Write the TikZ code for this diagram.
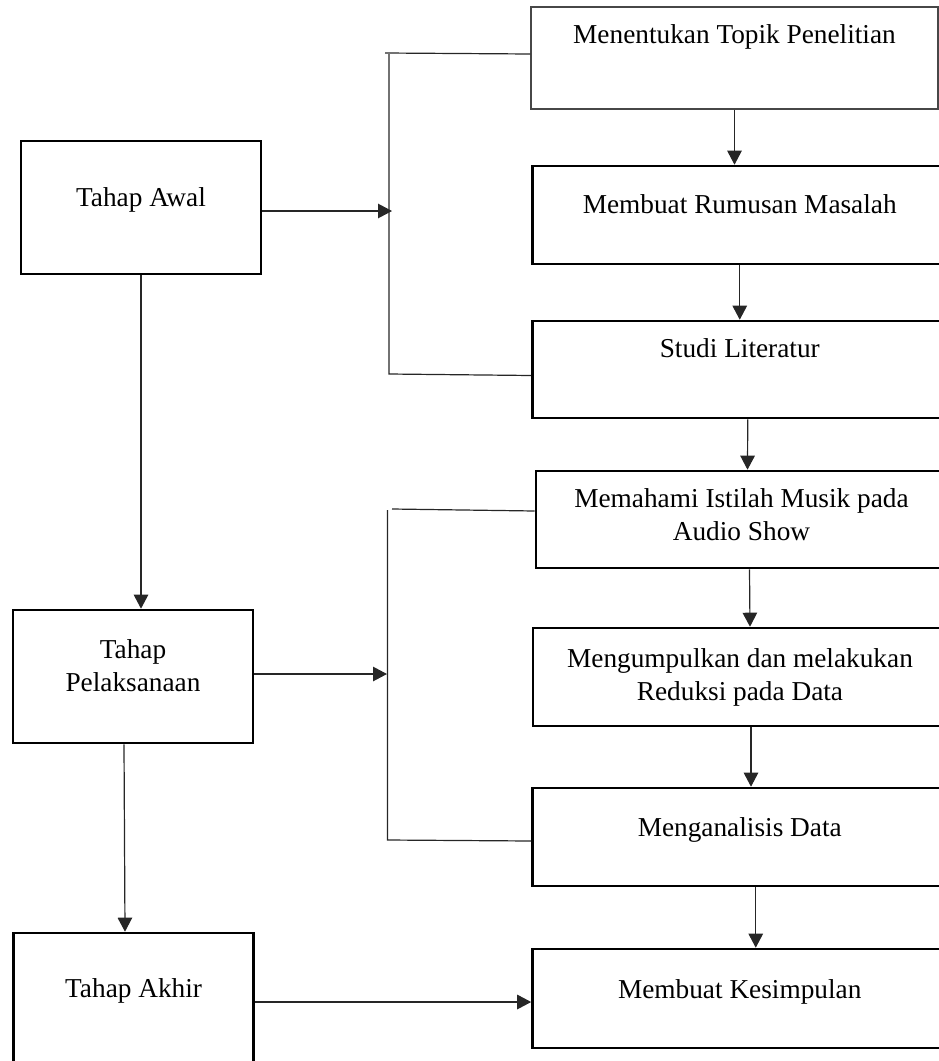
\documentclass[tikz,border=0pt]{standalone}
\usepackage{fontspec}
\setmainfont{Liberation Serif}
\usetikzlibrary{arrows.meta,calc}
\begin{document}
\begin{tikzpicture}[x=1pt,y=-1pt,
  box/.style={draw=black, line width=2.6pt, rectangle, inner sep=0pt},
  lightbox/.style={draw=black!72, line width=1.5pt, rectangle, inner sep=0pt},
  lbl/.style={font=\fontsize{27.3}{33}\selectfont, inner sep=0pt, anchor=base, align=center},
  conn/.style={line width=1.2pt, draw=black!85},
  arr/.style={conn, -{Triangle[length=14pt,width=14.5pt]}}]
\useasboundingbox (0,0) rectangle (939,1061);
\clip (0,0) rectangle (939,1061);
% left boxes
\node[box, minimum width=240pt, minimum height=133pt] (awal) at (141,207.5) {};
\node[box, minimum width=240pt, minimum height=133pt] (pel) at (133,676.5) {};
\node[box, minimum width=240pt, minimum height=142pt] (akhir) at (133.6,1004) {};
% right boxes
\node[lightbox, minimum width=407pt, minimum height=102pt] (b1) at (734.5,58) {};
\node[box, minimum width=414.5pt, minimum height=98pt] (b2) at (739.75,215) {};
\node[box, minimum width=414.5pt, minimum height=97pt] (b3) at (739.75,369.5) {};
\node[box, minimum width=411pt, minimum height=97pt] (b4) at (741.5,519.5) {};
\node[box, minimum width=414pt, minimum height=98pt] (b5) at (740,677) {};
\node[box, minimum width=414.5pt, minimum height=98pt] (b6) at (739.75,837) {};
\node[box, minimum width=414.5pt, minimum height=99pt] (b7) at (739.75,998.5) {};
% texts
\node[lbl] (ta) at (141,206) {Tahap Awal};
\node[lbl] (tp) at (133,691) {Tahap\\Pelaksanaan};
\node[lbl] (tk) at (133.6,997) {Tahap Akhir};
\node[lbl] (t1) at (734.5,43) {Menentukan Topik Penelitian};
\node[lbl] (t2) at (739.75,213) {Membuat Rumusan Masalah};
\node[lbl] (t3) at (739.75,357) {Studi Literatur};
\node[lbl] (t4) at (741.5,540) {Memahami Istilah Musik pada\\Audio Show};
\node[lbl] (t5) at (740,700) {Mengumpulkan dan melakukan\\Reduksi pada Data};
\node[lbl] (t6) at (739.75,836) {Menganalisis Data};
\node[lbl] (t7) at (739.75,998) {Membuat Kesimpulan};
% right column arrows
\draw[arr] (b1.south) -- (b1.south |- b2.north);
\draw[arr] (b2.south) -- (b3.north);
\draw[arr] ([xshift=8pt]b3.south) -- ([xshift=6pt]b4.north);
\draw[arr] ([xshift=8pt]b4.south) -- ([xshift=10pt]b5.north);
\draw[arr] ([xshift=11pt]b5.south) -- ([xshift=11.25pt]b6.north);
\draw[arr] ([xshift=16pt]b6.south) -- ([xshift=16pt]b7.north);
% left column arrows
\draw[arr] (awal.south) -- (awal.south |- pel.north);
\draw[arr] ([xshift=-9pt]pel.south) -- ([xshift=-8.6pt]akhir.north);
% bracket 1
\coordinate (k1a) at (385,53);
\coordinate (k1b) at (389,54);
\coordinate (k1c) at (389,374);
\coordinate (k1m) at (392,211);
\draw[conn] (k1a) -- ([yshift=4pt]b1.west);
\draw[conn] (k1b) -- (k1c) -- ([yshift=-6pt]b3.west);
\draw[arr] ([yshift=-3.5pt]awal.east) -- (k1m);
% bracket 2
\coordinate (k2a) at (392,509);
\coordinate (k2b) at (387.5,510);
\coordinate (k2c) at (387.5,840);
\coordinate (k2m) at (387,674);
\draw[conn] (k2a) -- ([yshift=8.5pt]b4.west);
\draw[conn] (k2b) -- (k2c) -- ([yshift=-4pt]b6.west);
\draw[arr] ([yshift=2.5pt]pel.east) -- (k2m);
% final arrow
\draw[arr] ([yshift=2pt]akhir.east) -- ([yshift=-3.5pt]b7.west);
\end{tikzpicture}
\end{document}
